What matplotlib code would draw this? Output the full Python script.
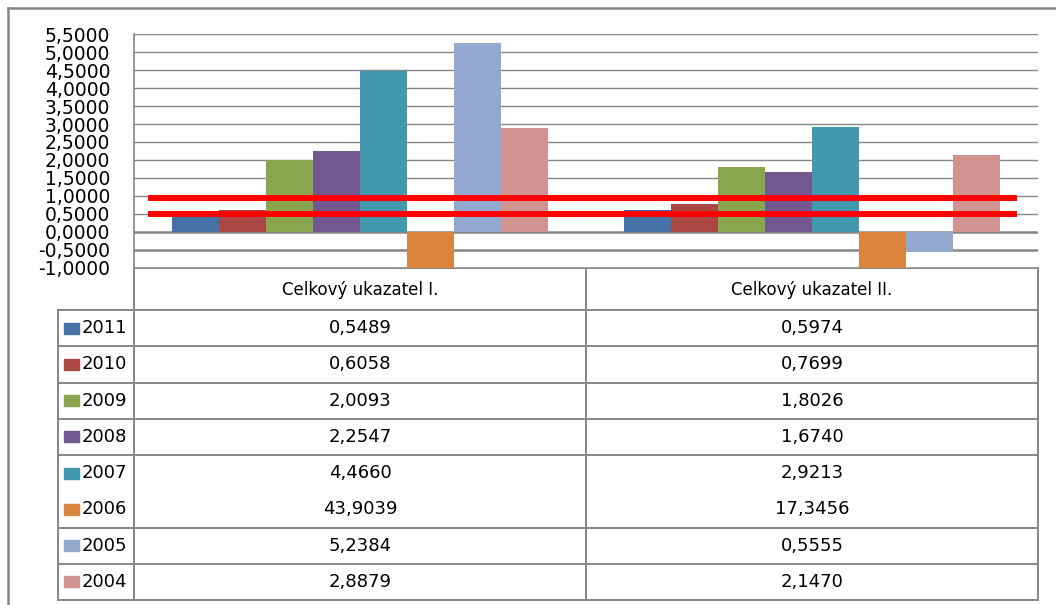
import matplotlib
matplotlib.use("Agg")
import matplotlib.pyplot as plt
from matplotlib.patches import Rectangle
import numpy as np

# Data
categories = ["Celkový ukazatel I.", "Celkový ukazatel II."]
years = ["2011", "2010", "2009", "2008", "2007", "2006", "2005", "2004"]
ukazatel_1 = [0.5489, 0.6058, 2.0093, 2.2547, 4.4660, -43.9039, 5.2384, 2.8879]
ukazatel_2 = [0.5974, 0.7699, 1.8026, 1.6740, 2.9213, -17.3456, -0.5555, 2.1470]
limits = [0.95, 0.5]

colors = ["#4572A7", "#AA4643", "#89A54E", "#71588F",
          "#4198AF", "#DB843D", "#93A9CF", "#D19392"]
grid_color = "#868686"

W, H = 1056, 605
fig = plt.figure(figsize=(W / 100, H / 100), dpi=100)
plt.rcParams["font.family"] = "DejaVu Sans"

# plot area in pixels
left, right, top, bottom = 134, 1038, 34, 268
ax = fig.add_axes([left / W, 1 - bottom / H, (right - left) / W, (bottom - top) / H])

values = np.array([ukazatel_1, ukazatel_2])
x = np.arange(len(categories))
bar_w = 0.104
for i, year in enumerate(years):
    ax.bar(x + (i - 3.5) * bar_w, values[:, i], width=bar_w,
           color=colors[i], zorder=2)

ax.set_xlim(-0.5, 1.5)
ax.set_ylim(-1, 5.5)
ticks = np.arange(-1, 5.51, 0.5)
ax.set_yticks(ticks)
ax.set_yticklabels([f"{t:.4f}".replace(".", ",") for t in ticks], fontsize=13.5)
ax.tick_params(axis="y", length=0, pad=17)
ax.set_xticks([])

for t in ticks:
    lw = 1.8 if t <= 0 else 1.0
    ax.axhline(t, color=grid_color, lw=lw, zorder=1)

for s in ["top", "right", "bottom"]:
    ax.spines[s].set_visible(False)
ax.spines["left"].set_color(grid_color)
ax.spines["left"].set_linewidth(1.2)

for lim in limits:
    ax.axhline(lim, xmin=0.019, xmax=0.974, color="#FF0000", lw=4.3, zorder=3)

# data table below the chart, drawn in pixel coordinates
tb = fig.add_axes([0, 0, 1, 1], zorder=-1)
tb.set_xlim(0, W)
tb.set_ylim(H, 0)
tb.axis("off")

col_w = (right - left) / len(categories)
col_edges = [left + k * col_w for k in range(len(categories) + 1)]
head_bottom = 310
row_h = (600 - head_bottom) / len(years)
row_edges = [head_bottom + k * row_h for k in range(len(years) + 1)]
leg_left = 58

lc = dict(color=grid_color, lw=1.4)
# header row
tb.plot([left, right], [bottom, bottom], **lc)
for xe in col_edges:
    tb.plot([xe, xe], [bottom, row_edges[-1]], **lc)
tb.plot([leg_left, leg_left], [head_bottom, row_edges[-1]], **lc)
for k, ye in enumerate(row_edges):
    if k == 5:
        continue
    tb.plot([leg_left, right], [ye, ye], **lc)

for j, cat in enumerate(categories):
    cx = (col_edges[j] + col_edges[j + 1]) / 2
    tb.text(cx, (bottom + head_bottom) / 2 + 1, cat, ha="center", va="center",
            fontsize=12)

def fmt(v):
    return f"{abs(v):.4f}".replace(".", ",")

for i, year in enumerate(years):
    cy = (row_edges[i] + row_edges[i + 1]) / 2
    tb.add_patch(Rectangle((64, cy - 5.5), 15, 11, color=colors[i]))
    tb.text(82, cy, year, ha="left", va="center", fontsize=13)
    for j in range(len(categories)):
        cx = (col_edges[j] + col_edges[j + 1]) / 2
        tb.text(cx, cy, fmt(values[j, i]), ha="center", va="center", fontsize=13)

# chart frame
tb.plot([8, W], [8, 8], color=grid_color, lw=1.8)
tb.plot([8, 8], [8, H], color=grid_color, lw=1.8)

fig.savefig("out.png", dpi=100)
